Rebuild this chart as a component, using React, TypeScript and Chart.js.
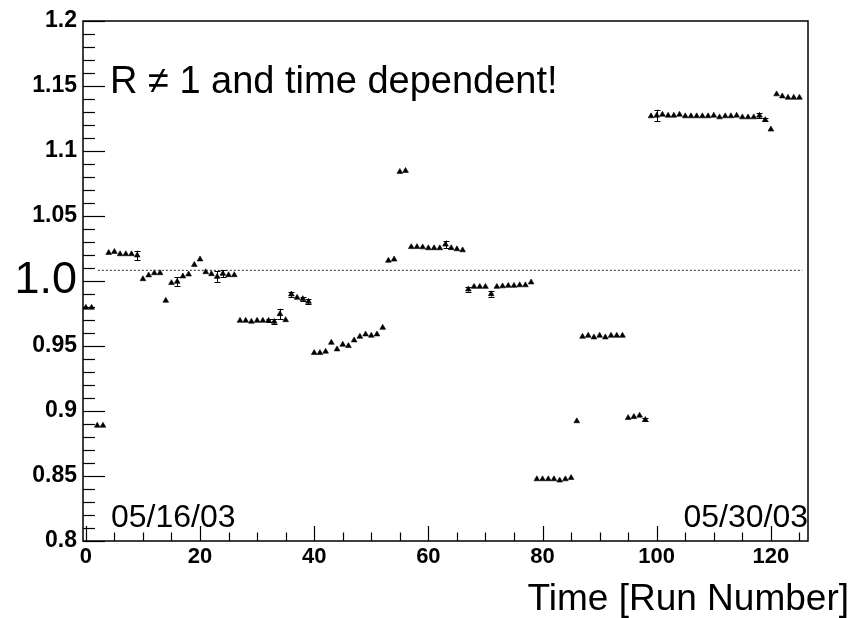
import React, { useEffect, useRef } from "react";
import { Chart, registerables } from "chart.js";

Chart.register(...registerables);

// Ratio R per run (run number = array index)
const ratio: number[] = [
  0.9795, 0.9795, 0.8888, 0.8888,
  1.0217, 1.0225, 1.0207, 1.0207, 1.0207, 1.0197,
  1.0015, 1.0044, 1.0061, 1.0061,
  0.9849, 0.9985, 0.9995, 1.0036, 1.0051, 1.0125, 1.0167, 1.0069, 1.0054, 1.0033, 1.0056, 1.0046, 1.0046,
  0.9695, 0.9695, 0.9688, 0.9695, 0.9695, 0.9695, 0.9687, 0.9746, 0.97,
  0.9898, 0.9872, 0.9862, 0.9841,
  0.9447, 0.9447, 0.9457, 0.9526, 0.9475, 0.9511, 0.9501, 0.9544, 0.9572, 0.959, 0.958, 0.959, 0.9641,
  1.0157, 1.0166,
  1.084, 1.0848,
  1.0262, 1.0262, 1.026, 1.0253, 1.0253, 1.0253, 1.0281, 1.0254, 1.0245, 1.0237,
  0.9936, 0.9956, 0.9956, 0.9956, 0.99, 0.9956, 0.996, 0.9964, 0.9964, 0.9968, 0.9968, 0.999,
  0.8476, 0.8476, 0.8476, 0.8476, 0.8466, 0.8476, 0.8486,
  0.8922,
  0.9572, 0.958, 0.9567, 0.958, 0.9567, 0.958, 0.958, 0.958,
  0.8947, 0.8955, 0.8965, 0.8932,
  1.1268, 1.1273, 1.128, 1.1273, 1.1273, 1.128, 1.1268, 1.1268, 1.1268, 1.1268, 1.1268, 1.1273,
  1.126, 1.1268, 1.1268, 1.1273, 1.126, 1.126, 1.126, 1.1273, 1.1239, 1.1166,
  1.1437, 1.1421, 1.1411, 1.1411, 1.1411,
];

// Runs whose statistical error is large enough to show, and that error
const errRuns: number[] = [9, 16, 23, 24, 32, 33, 34, 36, 38, 39, 63, 67, 71, 98, 100, 118, 119];
const errSizes: number[] = [
  0.0036, 0.0036, 0.0041, 0.0028, 0.0012, 0.002, 0.004, 0.002, 0.0012, 0.002,
  0.003, 0.0018, 0.002, 0.0012, 0.0045, 0.002, 0.0012,
];

// Constant fit over the run range
const fitLevel = 1.0082;
const fitRange: number[] = [2.1, 125.5];

const xMajorTicks: number[] = [0, 20, 40, 60, 80, 100, 120];
const xTickLabels: string[] = ["0", "20", "40", "60", "80", "100", "120"];
const yMajorTicks: number[] = [0.8, 0.85, 0.9, 0.95, 1.0, 1.05, 1.1, 1.15, 1.2];
const yTickLabels: string[] = ["0.8", "0.85", "0.9", "0.95", "1.0", "1.05", "1.1", "1.15", "1.2"];

const xRange: number[] = [-0.5, 126.5];
const yRange: number[] = [0.8, 1.2];

const FONT = "'Liberation Sans', Arial, sans-serif";

const frameAndTicks = {
  id: "frameAndTicks",
  afterDatasetsDraw(chart: any) {
    const { ctx, chartArea: a, scales } = chart;
    const xs = scales.x;
    const ys = scales.y;
    ctx.save();
    ctx.strokeStyle = "#000";
    ctx.lineWidth = 1.2;
    // y ticks (inward, minor every 0.01)
    for (let k = 0; k <= 40; k++) {
      const v = yRange[0] + k * 0.01;
      const y = Math.round(ys.getPixelForValue(v)) + 0.5;
      const len = k % 5 === 0 ? 22 : 12;
      ctx.beginPath();
      ctx.moveTo(a.left, y);
      ctx.lineTo(a.left + len, y);
      ctx.stroke();
    }
    // x ticks (inward, minor every 5)
    for (let k = 0; k <= 25; k++) {
      const v = k * 5;
      const x = Math.round(xs.getPixelForValue(v)) + 0.5;
      const len = k % 4 === 0 ? 15 : 8.5;
      ctx.beginPath();
      ctx.moveTo(x, a.bottom);
      ctx.lineTo(x, a.bottom - len);
      ctx.stroke();
    }
    // error bars
    ctx.lineWidth = 1;
    errRuns.forEach((run, i) => {
      const v = ratio[run];
      const e = errSizes[i];
      const x = Math.round(xs.getPixelForValue(run)) + 0.5;
      const y1 = ys.getPixelForValue(v - e);
      const y2 = ys.getPixelForValue(v + e);
      ctx.beginPath();
      ctx.moveTo(x, y1);
      ctx.lineTo(x, y2);
      ctx.moveTo(x - 3, Math.round(y1) + 0.5);
      ctx.lineTo(x + 3, Math.round(y1) + 0.5);
      ctx.moveTo(x - 3, Math.round(y2) + 0.5);
      ctx.lineTo(x + 3, Math.round(y2) + 0.5);
      ctx.stroke();
    });
    // frame
    ctx.lineWidth = 1.5;
    ctx.strokeRect(a.left, a.top, a.right - a.left, a.bottom - a.top);
    ctx.restore();
  },
  afterDraw(chart: any) {
    const { ctx, chartArea: a } = chart;
    ctx.save();
    ctx.fillStyle = "#000";
    ctx.textBaseline = "alphabetic";
    ctx.font = `38px ${FONT}`;
    ctx.textAlign = "left";
    ctx.fillText("R \u2260 1 and time dependent!", a.left + 27, a.top + 72);
    ctx.font = `32px ${FONT}`;
    ctx.fillText("05/16/03", a.left + 28, a.bottom - 14);
    ctx.textAlign = "right";
    ctx.fillText("05/30/03", a.right, a.bottom - 14);
    ctx.font = `37px ${FONT}`;
    ctx.fillText("Time [Run Number]", chart.width - 3, a.bottom + 69);
    ctx.restore();
  },
};

export default function App() {
  const ref = useRef<HTMLCanvasElement | null>(null);

  useEffect(() => {
    if (!ref.current) return;
    const points = ratio.map((v, i) => ({ x: i, y: v }));
    const chart = new Chart(ref.current, {
      type: "scatter",
      data: {
        datasets: [
          {
            type: "line",
            data: fitRange.map((x) => ({ x, y: fitLevel })),
            borderColor: "#222",
            borderWidth: 1,
            borderDash: [2, 2],
            pointRadius: 0,
            fill: false,
          } as any,
          {
            data: points,
            pointStyle: "triangle",
            pointRadius: 3.3,
            backgroundColor: "#000",
            borderColor: "#000",
            borderWidth: 0.6,
          },
        ],
      },
      options: {
        responsive: false,
        animation: false,
        events: [],
        layout: { padding: { top: 21, right: 44, left: 0, bottom: 0 } },
        plugins: { legend: { display: false }, tooltip: { enabled: false } },
        scales: {
          x: {
            type: "linear",
            min: xRange[0],
            max: xRange[1],
            grid: { display: false, drawTicks: false },
            border: { display: false },
            afterBuildTicks: (s: any) => {
              s.ticks = xMajorTicks.map((value) => ({ value }));
            },
            afterFit: (s: any) => {
              s.height = 77;
            },
            ticks: {
              color: "#000",
              padding: 3,
              maxRotation: 0,
              autoSkip: false,
              font: { family: FONT, size: 22, weight: "bold" },
              callback: (v: any) => {
                const i = xMajorTicks.indexOf(Number(v));
                return i >= 0 ? xTickLabels[i] : "";
              },
            },
          },
          y: {
            type: "linear",
            min: yRange[0],
            max: yRange[1],
            grid: { display: false, drawTicks: false },
            border: { display: false },
            afterBuildTicks: (s: any) => {
              s.ticks = yMajorTicks.map((value) => ({ value }));
            },
            afterFit: (s: any) => {
              s.width = 83;
            },
            ticks: {
              color: "#000",
              padding: 6,
              autoSkip: false,
              font: (c: any) =>
                c.tick && Math.abs(c.tick.value - 1) < 1e-9
                  ? { family: FONT, size: 45, weight: "normal" }
                  : { family: FONT, size: 23, weight: "bold" },
              callback: (v: any) => {
                const i = yMajorTicks.findIndex((t) => Math.abs(t - Number(v)) < 1e-9);
                return i >= 0 ? yTickLabels[i] : "";
              },
            },
          },
        },
      },
      plugins: [frameAndTicks],
    });
    return () => chart.destroy();
  }, []);

  return (
    <div style={{ position: "fixed", left: 0, top: 0, width: 852, height: 618, background: "#fff" }}>
      <canvas ref={ref} width={852} height={618} style={{ width: 852, height: 618 }} />
    </div>
  );
}
